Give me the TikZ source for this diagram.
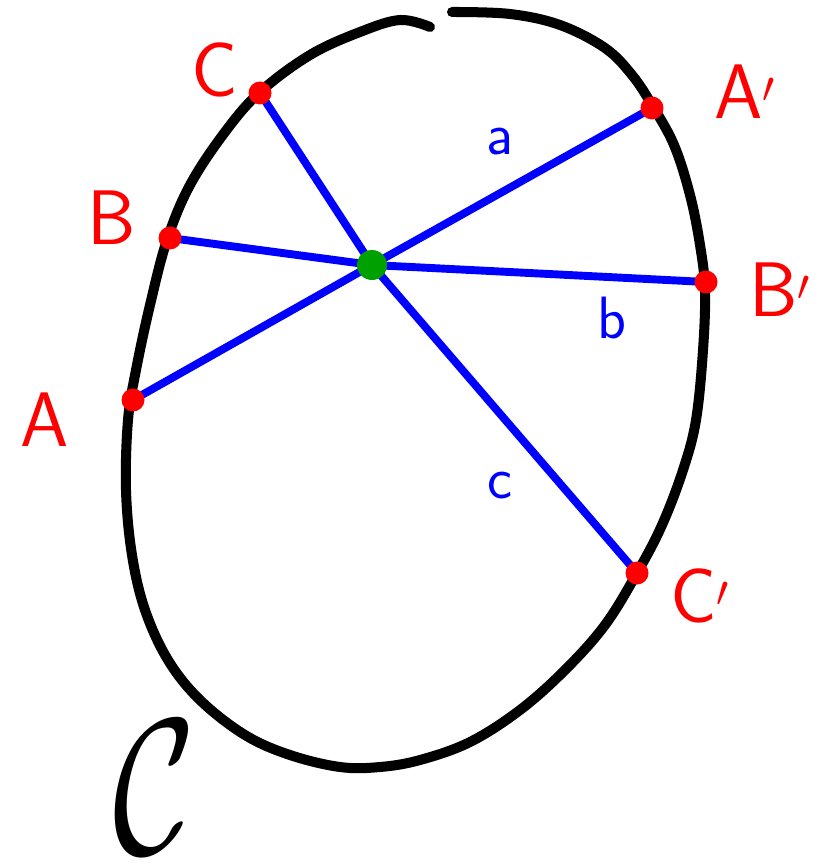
\documentclass[tikz,border=0pt]{standalone}
\usepackage{amsmath,amssymb}
\usepackage{xcolor}
\definecolor{penred}{RGB}{255, 0, 0}
\definecolor{penblue}{RGB}{0, 0, 255}
\definecolor{pengreen}{RGB}{0, 160, 0}
\usepackage{tikz}
\usetikzlibrary{positioning}

\tikzset{
  dot/.style={circle, fill=penred, inner sep=0pt, minimum size=0.46cm},
  chord/.style={penblue, line width=4.5pt},
  ptlabel/.style={penred, font=\sffamily\fontsize{44}{44}\selectfont},
  chordlabel/.style={penblue, font=\sffamily\fontsize{34}{34}\selectfont}
}

\begin{document}
\begin{tikzpicture}[x=0.02cm, y=-0.02cm, line cap=round, line join=round]
    \useasboundingbox (0,0) rectangle (836,864);
    % the closed curve, with its small gap at the top
    \draw[line width=5.7pt, black] plot[smooth, tension=0.6] coordinates {
      (452,12) (510,14) (560,25) (605,48) (632,75) (652,105) (674,145)
      (690,195) (700,245) (705,290) (703,350) (696,420) (683,470)
      (662,525) (637,573) (605,625) (565,670) (520,710) (470,742)
      (420,760) (380,767) (340,767) (290,755) (245,735) (200,700)
      (168,660) (145,610) (132,555) (126,490) (128,420) (136,370)
      (150,305) (167,240) (190,185) (225,132) (260,92) (310,55)
      (360,32) (400,20) (430,27)};
    \coordinate (O) at (372,265);
    \coordinate (A) at (133,400);
    \coordinate (A') at (652,108);
    \coordinate (B) at (170,238);
    \coordinate (B') at (706,282);
    \coordinate (C) at (260,93);
    \coordinate (C') at (637,573);
    % chords through O
    \foreach \p in {A,A',B,B',C,C'}
        \draw[chord] (O) -- (\p);
    \foreach \p in {A,A',B,B',C,C'}
        \node[dot] (dot\p) at (\p) {};
    \node[circle, fill=pengreen, inner sep=0pt, minimum size=0.6cm] (center) at (O) {};
    % labels
    \node[ptlabel] (labA) at (45,420) {A};
    \node[ptlabel] (labA') at (745,92) {A$'$};
    \node[ptlabel] (labB) at (112,218) {B};
    \node[ptlabel] (labB') at (780,290) {B$'$};
    \node[ptlabel] (labC) at (215,70) {C};
    \node[ptlabel] (labC') at (700,596) {C$'$};
    \node[chordlabel] (laba) at (500,142) {a};
    \node[chordlabel] (labb) at (612,318) {b};
    \node[chordlabel] (labc) at (500,486) {c};
    \node (labcurve) at (155,787) {\scalebox{8}[11]{$\mathcal{C}$}};
\end{tikzpicture}
\end{document}
